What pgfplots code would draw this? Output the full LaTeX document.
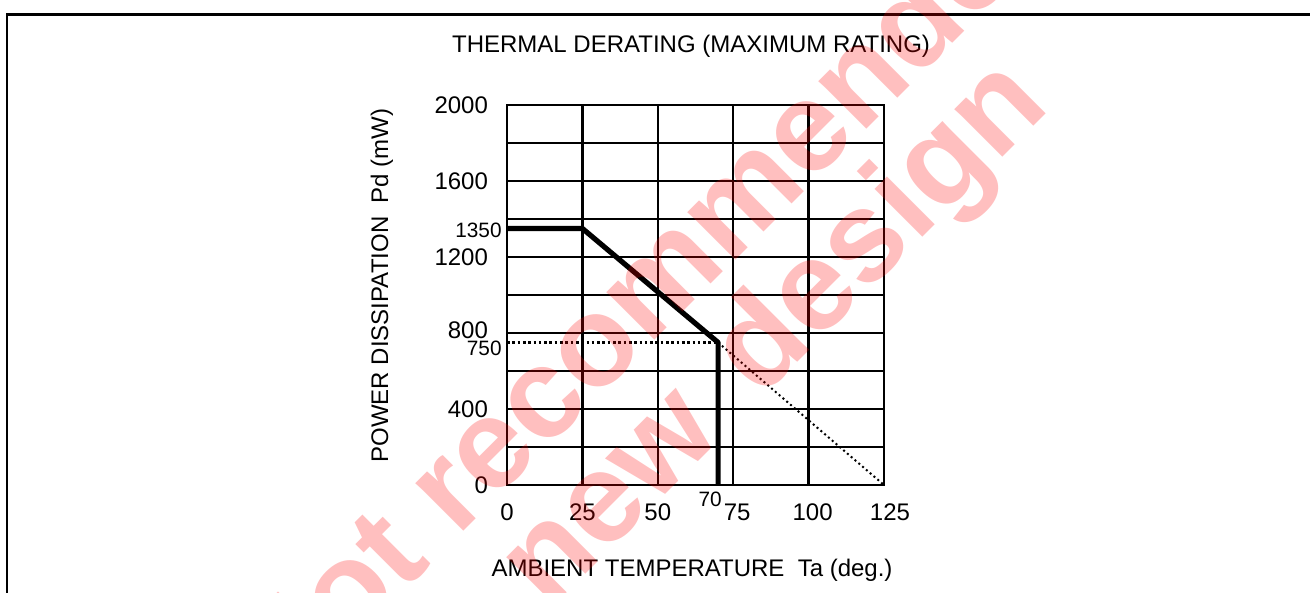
\documentclass[border=0pt]{standalone}
\usepackage{fontspec}
\setmainfont{Liberation Sans}
\usepackage{pgfplots}
\pgfplotsset{compat=1.18}
\begin{document}
\begin{tikzpicture}
\useasboundingbox (0,0) rectangle (655pt,-296.5pt);
\clip (0,0) rectangle (655pt,-296.5pt);
\draw[line width=1.3pt] (3.5pt,-320pt) -- (3.5pt,-7.25pt) -- (700pt,-7.25pt);
\begin{axis}[
  at={(253.5pt,-242.5pt)}, anchor=south west,
  scale only axis, width=188.5pt, height=190pt,
  xmin=0, xmax=125, ymin=0, ymax=2000,
  clip=false,
  xtick={0,25,50,75,100,125},
  ytick={0,200,400,600,800,1000,1200,1400,1600,1800,2000},
  xticklabels={0,25,50,\kern4pt 75,\kern4pt 100,\kern6pt 125},
  yticklabels={0,,400,,\raisebox{3pt}{800},,1200,,1600,,2000},
  /pgf/number format/assume math mode=true,
  ticklabel style={font=\fontsize{12}{14}\selectfont},
  xticklabel style={yshift=-6pt},
  yticklabel style={xshift=-6pt},
  major tick length=0pt,
  tick style={draw=none},
  grid=major,
  major grid style={line width=1.2pt, black},
  axis line style={line width=1.2pt},
]
\addplot[line width=2.6pt, line join=round] coordinates {(0,1350) (25,1350) (70,750) (70,0)};
\addplot[line width=1.3pt, dash pattern=on 1.3pt off 1.35pt] coordinates {(0,750) (70,750)};
\addplot[line width=1pt, dash pattern=on 1pt off 1.5pt] coordinates {(70,750) (125,0)};
\node[anchor=east, inner sep=0pt, font=\fontsize{10.4}{12}\selectfont] at (axis cs:0,1350) [xshift=-2.5pt, yshift=-0.75pt] {1350};
\node[anchor=east, inner sep=0pt, font=\fontsize{10.4}{12}\selectfont] at (axis cs:0,750) [xshift=-2.5pt, yshift=-2.75pt] {750};
\node[inner sep=0pt, font=\fontsize{10.4}{12}\selectfont] at (axis cs:70,0) [xshift=-4pt, yshift=-7pt] {70};
\end{axis}
\node[anchor=base, inner sep=0pt, font=\fontsize{12}{14}\selectfont] at (345.5pt,-26.5pt) {THERMAL DERATING (MAXIMUM RATING)};
\node[anchor=base, inner sep=0pt, rotate=90, font=\fontsize{12}{14}\selectfont] at (194pt,-142.75pt) {POWER DISSIPATION\ \ Pd (mW)};
\node[anchor=base, inner sep=0pt, font=\fontsize{12}{14}\selectfont] at (346pt,-288pt) {AMBIENT TEMPERATURE\ \ Ta (deg.)};
\node[anchor=base west, inner sep=0pt, rotate=45, text=red, text opacity=0.25, font=\fontsize{64}{64}\selectfont\bfseries] at (140.8pt,-357pt) {Not recommended for};
\node[anchor=base west, inner sep=0pt, rotate=45, text=red, text opacity=0.25, font=\fontsize{64}{64}\selectfont\bfseries] at (274pt,-306pt) {new\hspace{0.12em} design};
\end{tikzpicture}
\end{document}
